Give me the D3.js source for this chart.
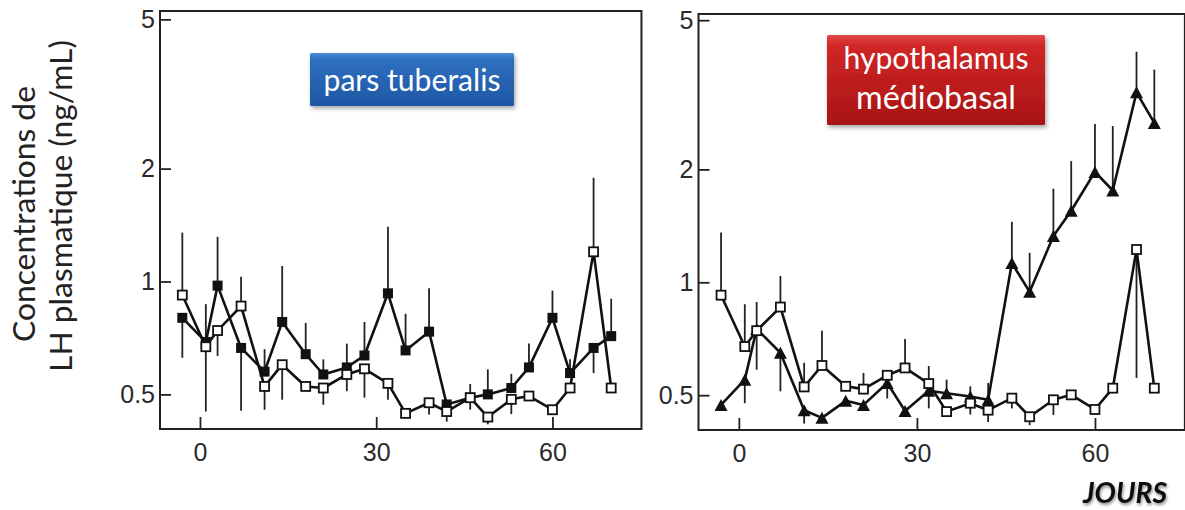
<!DOCTYPE html>
<html>
<head>
<meta charset="utf-8">
<script src="https://cdn.jsdelivr.net/npm/d3@7/dist/d3.min.js"></script>
<style>
  html, body { margin: 0; padding: 0; background: #fff; }
  svg { display: block; }
</style>
</head>
<body>
<svg id="chart" width="1185" height="510"></svg>
<script>
// ---------------- DATA ----------------
const days = [-3, 1, 3, 7, 11, 14, 18, 21, 25, 28, 32, 35, 39, 42, 46, 49, 53, 56, 60, 63, 67, 70];
const xTicks = [0, 30, 60];
const yTicks = [0.5, 1, 2, 5];
const yTickLabels = ["0.5", "1", "2", "5"];

// Panel 1: pars tuberalis
const ptFilled    = [0.80, 0.69, 0.975, 0.665, 0.575, 0.78, 0.64, 0.565, 0.59, 0.635, 0.93, 0.655, 0.735, 0.47, 0.49, 0.50, 0.52, 0.59, 0.80, 0.57, 0.665, 0.715];
const ptFilledErr = [0.626, 0.87, 1.315, 0.452, 0.66, 1.10, 0.775, 0.62, 0.683, 0.78, 1.40, 0.82, 0.96, null, 0.533, 0.583, 0.567, 0.683, 0.946, 0.62, 0.57, 0.90];
const ptOpen      = [0.92, 0.67, 0.74, 0.86, 0.525, 0.60, 0.525, 0.52, 0.565, 0.585, 0.535, 0.445, 0.475, 0.45, 0.49, 0.435, 0.485, 0.495, 0.455, 0.52, 1.20, 0.52];
const ptOpenErr   = [1.35, 0.45, 0.633, 1.03, 0.455, 0.484, null, 0.469, 0.51, 0.49, 0.484, null, 0.442, 0.423, 0.455, 0.416, 0.443, null, null, null, 1.89, null];

// Panel 2: hypothalamus médiobasal
const mbhOpen     = [0.924, 0.674, 0.743, 0.859, 0.526, 0.60, 0.528, 0.519, 0.565, 0.591, 0.537, 0.452, 0.476, 0.456, 0.491, 0.438, 0.486, 0.501, 0.458, 0.522, 1.223, 0.522];
const mbhOpenErr  = [1.357, 0.874, 0.886, 1.04, 0.61, 0.743, null, 0.573, null, 0.706, 0.598, null, 0.444, 0.424, 0.461, 0.416, 0.443, null, null, null, 0.556, null];
const mbhTri      = [0.471, 0.55, 0.751, 0.649, 0.456, 0.435, 0.483, 0.471, 0.539, 0.454, 0.514, 0.506, 0.496, 0.486, 1.126, 0.943, 1.328, 1.552, 1.97, 1.757, 3.21, 2.66];
const mbhTriErr   = [null, 0.476, 0.585, 0.512, 0.42, null, null, null, 0.49, null, 0.461, 0.55, 0.528, 0.539, 1.45, 1.198, 1.776, 2.105, 2.645, 2.61, 4.12, 3.69];

const panelTitles = [["pars tuberalis"], ["hypothalamus", "médiobasal"]];
const yTitle = ["Concentrations de", "LH plasmatique (ng/mL)"];
const xTitle = "JOURS";

// ---------------- LAYOUT ----------------
const svg = d3.select("#chart");
const defs = svg.append("defs");

const gBlue = defs.append("linearGradient").attr("id", "gBlue").attr("x1", 0).attr("y1", 0).attr("x2", 0).attr("y2", 1);
gBlue.append("stop").attr("offset", "0%").attr("stop-color", "#4a8ad6");
gBlue.append("stop").attr("offset", "12%").attr("stop-color", "#2f6fc0");
gBlue.append("stop").attr("offset", "100%").attr("stop-color", "#1e56a4");
const gRed = defs.append("linearGradient").attr("id", "gRed").attr("x1", 0).attr("y1", 0).attr("x2", 0).attr("y2", 1);
gRed.append("stop").attr("offset", "0%").attr("stop-color", "#e04848");
gRed.append("stop").attr("offset", "12%").attr("stop-color", "#d02626");
gRed.append("stop").attr("offset", "100%").attr("stop-color", "#a81414");

const shadow = defs.append("filter").attr("id", "shadow").attr("x", "-20%").attr("y", "-20%").attr("width", "140%").attr("height", "160%");
shadow.append("feDropShadow").attr("dx", 1.5).attr("dy", 2.5).attr("stdDeviation", 2).attr("flood-color", "#000").attr("flood-opacity", 0.35);
const tshadow = defs.append("filter").attr("id", "tshadow").attr("x", "-10%").attr("y", "-20%").attr("width", "120%").attr("height", "140%");
tshadow.append("feDropShadow").attr("dx", 1).attr("dy", 2).attr("stdDeviation", 1.5).attr("flood-color", "#000").attr("flood-opacity", 0.45);

const panels = [
  {
    left: 160, right: 641, top: 11, bottom: 429, yOne: 281.5,
    series: [
      { vals: ptFilled, err: ptFilledErr, marker: "filledSquare" },
      { vals: ptOpen, err: ptOpenErr, marker: "openSquare" }
    ],
    box: { x: 310, y: 53, w: 204, h: 53, fill: "url(#gBlue)", baselines: [90.5], widths: [177] }
  },
  {
    left: 698.5, right: 1186, top: 14, bottom: 430, yOne: 282.3,
    series: [
      { vals: mbhTri, err: mbhTriErr, marker: "triangle" },
      { vals: mbhOpen, err: mbhOpenErr, marker: "openSquare" }
    ],
    box: { x: 827, y: 35, w: 218, h: 90, fill: "url(#gRed)", baselines: [68.5, 108.5], widths: [185, 160] }
  }
];

const pxPerDecade = 375;
const xDomain = [-6.8, 75.15];

panels.forEach((p, pi) => {
  const x = d3.scaleLinear().domain(xDomain).range([p.left, p.left + (xDomain[1] - xDomain[0]) * (pi === 0 ? 5.875 : 5.935)]);
  const yMin = Math.pow(10, (p.yOne - p.bottom) / pxPerDecade);
  const yMax = Math.pow(10, (p.yOne - p.top) / pxPerDecade);
  const y = d3.scaleLog().domain([yMin, yMax]).range([p.bottom, p.top]);

  const g = svg.append("g");

  // axes with inward ticks
  const yAxis = d3.axisLeft(y).tickValues(yTicks).tickFormat((d, i) => yTickLabels[i]).tickSize(-11).tickPadding(5);
  const ya = g.append("g").attr("transform", `translate(${p.left},0)`).call(yAxis);
  const xAxis = d3.axisBottom(x).tickValues(xTicks).tickFormat(d3.format("d")).tickSize(-12).tickPadding(14);
  const xa = g.append("g").attr("transform", `translate(0,${p.bottom})`).call(xAxis);
  [ya, xa].forEach(a => {
    a.select(".domain").remove();
    a.selectAll(".tick line").attr("stroke", "#222").attr("stroke-width", 1.8);
    a.selectAll(".tick text").attr("fill", "#2a2a2a").attr("font-family", "Liberation Sans, Arial, sans-serif").attr("font-size", 25);
  });

  // frame
  g.append("rect").attr("x", p.left).attr("y", p.top)
    .attr("width", x.range()[1] - p.left).attr("height", p.bottom - p.top)
    .attr("fill", "none").attr("stroke", "#222").attr("stroke-width", 2);

  // series
  p.series.forEach(s => {
    const pts = days.map((d, i) => ({ d, v: s.vals[i], e: s.err[i] }));
    // error bars
    g.append("g").selectAll("line").data(pts.filter(q => q.e != null)).join("line")
      .attr("x1", q => x(q.d)).attr("x2", q => x(q.d))
      .attr("y1", q => y(q.v)).attr("y2", q => y(q.e))
      .attr("stroke", "#222").attr("stroke-width", 1.8);
    // connecting line
    g.append("path").datum(pts)
      .attr("d", d3.line().x(q => x(q.d)).y(q => y(q.v)))
      .attr("fill", "none").attr("stroke", "#111").attr("stroke-width", 2.6).attr("stroke-linejoin", "round");
    // markers
    const mg = g.append("g");
    if (s.marker === "filledSquare") {
      mg.selectAll("rect").data(pts).join("rect")
        .attr("x", q => x(q.d) - 5).attr("y", q => y(q.v) - 5)
        .attr("width", 10).attr("height", 10).attr("fill", "#111");
    } else if (s.marker === "openSquare") {
      mg.selectAll("rect").data(pts).join("rect")
        .attr("x", q => x(q.d) - 4.5).attr("y", q => y(q.v) - 4.5)
        .attr("width", 9).attr("height", 9).attr("fill", "#fff").attr("stroke", "#111").attr("stroke-width", 1.8);
    } else {
      const w = 13, h = 12;
      mg.selectAll("path").data(pts).join("path")
        .attr("d", q => `M${x(q.d)},${y(q.v) - h / 2}L${x(q.d) + w / 2},${y(q.v) + h / 2}L${x(q.d) - w / 2},${y(q.v) + h / 2}Z`)
        .attr("fill", "#111");
    }
  });

  // title box
  const b = p.box;
  g.append("rect").attr("x", b.x).attr("y", b.y).attr("width", b.w).attr("height", b.h)
    .attr("fill", b.fill).attr("rx", 1.5).attr("filter", "url(#shadow)");
  panelTitles[pi].forEach((t, li) => {
    const tx = g.append("text").attr("x", b.x + b.w / 2).attr("y", b.baselines[li])
      .attr("text-anchor", "middle").attr("fill", "#fff")
      .attr("font-family", "Lato, 'Open Sans', sans-serif").attr("font-size", 26).text(t);
    const w = tx.node().getComputedTextLength();
    tx.attr("font-size", 26 * b.widths[li] / w);
  });
});

// Y axis title (two rotated lines)
const yt1 = svg.append("text").attr("transform", "translate(35,214) rotate(-90)")
  .attr("text-anchor", "middle").attr("fill", "#222")
  .attr("font-family", "Lato, 'Open Sans', sans-serif").attr("font-size", 24).text(yTitle[0]);
const yt2 = svg.append("text").attr("transform", "translate(72,206) rotate(-90)")
  .attr("text-anchor", "middle").attr("fill", "#222")
  .attr("font-family", "Lato, 'Open Sans', sans-serif").attr("font-size", 24).text(yTitle[1]);
const fs2 = 24 * 332 / yt2.node().getComputedTextLength();
yt2.attr("font-size", fs2);
yt1.attr("font-size", fs2);

// X title
const xt = svg.append("text").attr("x", 1167).attr("y", 503)
  .attr("text-anchor", "end").attr("fill", "#111")
  .attr("font-family", "Lato, 'Open Sans', sans-serif").attr("font-weight", "bold").attr("font-style", "italic")
  .attr("font-size", 26).attr("filter", "url(#tshadow)").text(xTitle);
xt.attr("font-size", 26 * 84 / xt.node().getComputedTextLength());
</script>
</body>
</html>
